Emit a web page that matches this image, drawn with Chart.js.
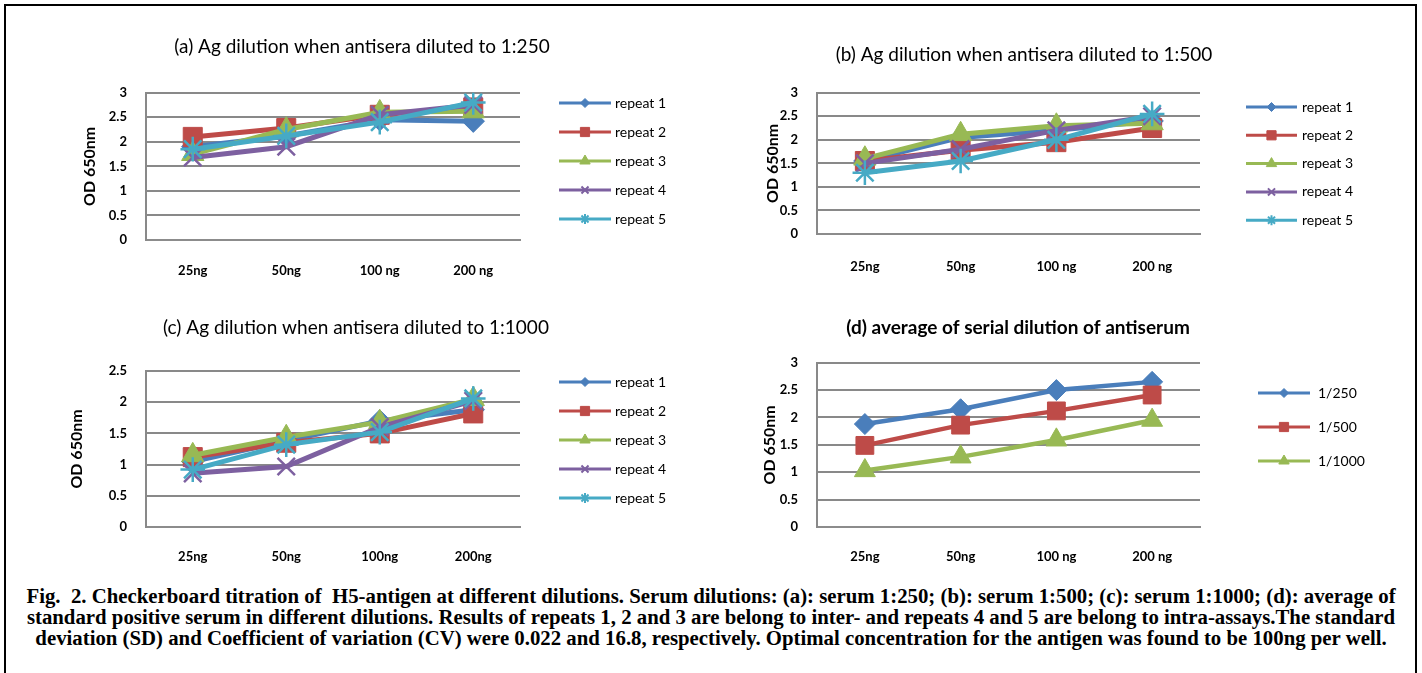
<!DOCTYPE html>
<html>
<head>
<meta charset="utf-8">
<title>Fig. 2 Checkerboard titration of H5-antigen</title>
<script src="https://cdn.jsdelivr.net/npm/chart.js@4.4.1/dist/chart.umd.min.js"></script>
<style>
  html, body { margin: 0; padding: 0; background: #fff; }
  body { width: 1422px; height: 673px; position: relative; overflow: hidden; }
  #frame { position: absolute; left: 4px; top: 4px; width: 1409px; height: 700px; border: 2px solid #000; }
  canvas { position: absolute; }
  #caption {
    position: absolute; left: 8px; width: 1406px; top: 585px;
    text-align: center; color: #000;
    font-family: "Liberation Serif", "Times New Roman", serif;
    font-weight: bold; font-size: 20.8px; line-height: 21px;
  }
</style>
</head>
<body>
<div id="frame"></div>
<canvas id="chart-a"></canvas>
<canvas id="chart-b"></canvas>
<canvas id="chart-c"></canvas>
<canvas id="chart-d"></canvas>
<div id="caption">Fig.&nbsp; 2. Checkerboard titration of&nbsp; H5-antigen at different dilutions. Serum dilutions: (a): serum 1:250; (b): serum 1:500; (c): serum 1:1000; (d): average of<br>standard positive serum in different dilutions. Results of repeats 1, 2 and 3 are belong to inter- and repeats 4 and 5 are belong to intra-assays.The standard<br>deviation (SD) and Coefficient of variation (CV) were 0.022 and 16.8, respectively. Optimal concentration for the antigen was found to be 100ng per well.</div>

<script>
// kategori dosis antigen
const doseLabels = ['25ng', '50ng', '100 ng', '200 ng'];
const doseLabelsC = ['25ng', '50ng', '100ng', '200ng'];
const repeatNames = ['repeat 1', 'repeat 2', 'repeat 3', 'repeat 4', 'repeat 5'];
const dilutionNames = ['1/250', '1/500', '1/1000'];

// (a) antisera 1:250
const a_repeat1 = [1.90, 2.12, 2.45, 2.42];
const a_repeat2 = [2.10, 2.28, 2.55, 2.70];
const a_repeat3 = [1.75, 2.25, 2.60, 2.62];
const a_repeat4 = [1.68, 1.90, 2.55, 2.75];
const a_repeat5 = [1.85, 2.12, 2.40, 2.80];

// (b) antisera 1:500
const b_repeat1 = [1.55, 2.05, 2.20, 2.40];
const b_repeat2 = [1.55, 1.78, 1.95, 2.25];
const b_repeat3 = [1.60, 2.12, 2.30, 2.35];
const b_repeat4 = [1.50, 1.80, 2.20, 2.50];
const b_repeat5 = [1.30, 1.55, 2.00, 2.55];

// (c) antisera 1:1000
const c_repeat1 = [1.05, 1.38, 1.70, 1.88];
const c_repeat2 = [1.12, 1.35, 1.50, 1.82];
const c_repeat3 = [1.15, 1.44, 1.68, 2.05];
const c_repeat4 = [0.86, 0.97, 1.60, 2.02];
const c_repeat5 = [0.92, 1.32, 1.52, 2.06];

// (d) rata-rata per pengenceran
const d_250 = [1.88, 2.15, 2.50, 2.65];
const d_500 = [1.49, 1.86, 2.12, 2.41];
const d_1000 = [1.03, 1.28, 1.59, 1.95];

const colors = ['#4A7EBB', '#BE4B48', '#98B954', '#7D60A0', '#46AAC5'];
const markers = ['rectRot', 'rect', 'triangle', 'crossRot', 'star'];
const markerRadius = { rectRot: 10, rect: 12, triangle: 11.5, crossRot: 11, star: 11 };
const legendRadius = { rectRot: 4.5, rect: 6.5, triangle: 6, crossRot: 5, star: 5 };
const FONT = 'Lato, "Open Sans", sans-serif';
const TICK_SIZE = 13;
const AXIS_TITLE_SIZE = 16;

// legenda gaya Excel: garis + penanda
const excelLegend = {
  id: 'excelLegend',
  afterDraw(chart, args, opts) {
    const ctx = chart.ctx;
    chart.data.datasets.forEach((ds, i) => {
      const y = opts.firstRow + i * opts.rowGap;
      const style = ds.pointStyle;
      ctx.save();
      ctx.strokeStyle = ds.borderColor;
      ctx.fillStyle = ds.borderColor;
      ctx.lineWidth = 3;
      ctx.beginPath();
      ctx.moveTo(opts.lineStart, y);
      ctx.lineTo(opts.lineEnd, y);
      ctx.stroke();
      ctx.lineWidth = (style === 'crossRot' || style === 'star') ? 2 : 1;
      Chart.helpers.drawPoint(ctx, {
        pointStyle: style, radius: legendRadius[style], rotation: 0, borderWidth: ctx.lineWidth
      }, (opts.lineStart + opts.lineEnd) / 2, y);
      ctx.fillStyle = '#000';
      ctx.font = '14px ' + FONT;
      ctx.textBaseline = 'middle';
      ctx.textAlign = 'left';
      ctx.fillText(ds.label, opts.textX, y);
      ctx.restore();
    });
  }
};

function makePanel(p) {
  const canvas = document.getElementById(p.id);
  canvas.width = p.width;
  canvas.height = p.height;
  canvas.style.left = p.left + 'px';
  canvas.style.top = p.top + 'px';

  const titleLH = p.titleSize * 1.2;
  const datasets = p.series.map((data, i) => {
    const style = markers[i];
    const cross = style === 'crossRot' || style === 'star';
    return {
      label: p.names[i],
      data: data,
      borderColor: colors[i],
      backgroundColor: colors[i],
      borderWidth: p.lineWidth,
      pointStyle: style,
      pointRadius: markerRadius[style] * p.markerScale,
      pointBackgroundColor: colors[i],
      pointBorderColor: colors[i],
      pointBorderWidth: cross ? 2.5 : 1,
      tension: 0,
      order: p.series.length - i
    };
  });

  new Chart(canvas.getContext('2d'), {
    type: 'line',
    data: { labels: p.labels, datasets: datasets },
    options: {
      responsive: false,
      animation: false,
      events: [],
      layout: { padding: 0 },
      plugins: {
        legend: { display: false },
        tooltip: { enabled: false },
        title: {
          display: true,
          text: p.title,
          color: '#000',
          font: { family: FONT, size: p.titleSize, weight: p.titleBold ? 'bold' : 'normal', lineHeight: 1.2 },
          padding: { top: p.titleY - p.top - titleLH / 2, bottom: p.plot.top - p.titleY - titleLH / 2 }
        },
        excelLegend: {
          lineStart: p.legend.lineStart - p.left,
          lineEnd: p.legend.lineEnd - p.left,
          textX: p.legend.textX - p.left,
          firstRow: p.legend.firstRow - p.top,
          rowGap: p.legend.rowGap
        }
      },
      scales: {
        x: {
          offset: true,
          grid: { display: false, drawTicks: false },
          border: { display: true, color: '#8C8C8C', width: 2 },
          ticks: {
            color: '#000',
            padding: p.labelY - p.plot.bottom - TICK_SIZE * 0.6,
            font: { family: FONT, size: TICK_SIZE, weight: 'bold', lineHeight: 1.2 }
          },
          afterFit: (s) => {
            s.height = p.top + p.height - p.plot.bottom;
            s.paddingRight = p.left + p.width - p.plot.right;
          }
        },
        y: {
          min: 0,
          max: p.yMax,
          grid: { color: '#898989', lineWidth: 2, drawTicks: false },
          border: { display: true, color: '#898989', width: 2 },
          ticks: {
            stepSize: 0.5,
            color: '#000',
            padding: 19,
            font: { family: FONT, size: TICK_SIZE, weight: 'bold' },
            callback: (v) => String(v)
          },
          title: {
            display: true,
            text: 'OD 650nm',
            color: '#000',
            font: { family: FONT, size: AXIS_TITLE_SIZE, weight: 'bold', lineHeight: 1.2 },
            padding: { top: p.yTitleX - p.left - AXIS_TITLE_SIZE * 0.6, bottom: 0 }
          },
          afterFit: (s) => { s.width = p.plot.left - p.left; }
        }
      }
    },
    plugins: [excelLegend]
  });
}

document.addEventListener('DOMContentLoaded', () => {
  makePanel({
    id: 'chart-a', left: 40, top: 14, width: 644, height: 286,
    plot: { left: 146, right: 520, top: 92.7, bottom: 240 },
    title: '(a) Ag dilution when antisera diluted to 1:250', titleY: 47, titleSize: 19, titleBold: false,
    yTitleX: 90, labelY: 271, yMax: 3,
    labels: doseLabels, names: repeatNames,
    series: [a_repeat1, a_repeat2, a_repeat3, a_repeat4, a_repeat5],
    lineWidth: 5, markerScale: 1.12,
    legend: { lineStart: 559, lineEnd: 611, textX: 615, firstRow: 103, rowGap: 29 }
  });
  makePanel({
    id: 'chart-b', left: 688, top: 14, width: 672, height: 286,
    plot: { left: 817, right: 1200, top: 92.7, bottom: 234 },
    title: '(b) Ag dilution when antisera diluted to 1:500', titleY: 55, titleSize: 19, titleBold: false,
    yTitleX: 773, labelY: 267, yMax: 3,
    labels: doseLabels, names: repeatNames,
    series: [b_repeat1, b_repeat2, b_repeat3, b_repeat4, b_repeat5],
    lineWidth: 5, markerScale: 1.12,
    legend: { lineStart: 1246, lineEnd: 1297, textX: 1302, firstRow: 107, rowGap: 28.3 }
  });
  makePanel({
    id: 'chart-c', left: 34, top: 300, width: 644, height: 280,
    plot: { left: 146, right: 520, top: 371, bottom: 527 },
    title: '(c) Ag dilution when antisera diluted to 1:1000', titleY: 328, titleSize: 19, titleBold: false,
    yTitleX: 77, labelY: 557, yMax: 2.5,
    labels: doseLabelsC, names: repeatNames,
    series: [c_repeat1, c_repeat2, c_repeat3, c_repeat4, c_repeat5],
    lineWidth: 5, markerScale: 1.12,
    legend: { lineStart: 559, lineEnd: 611, textX: 615, firstRow: 382, rowGap: 29 }
  });
  makePanel({
    id: 'chart-d', left: 671, top: 300, width: 694, height: 280,
    plot: { left: 817, right: 1200, top: 362.7, bottom: 527 },
    title: '(d) average of serial dilution of antiserum', titleY: 328, titleSize: 19, titleBold: true,
    yTitleX: 770, labelY: 557, yMax: 3,
    labels: doseLabels, names: dilutionNames,
    series: [d_250, d_500, d_1000],
    lineWidth: 4.5, markerScale: 1.05,
    legend: { lineStart: 1258, lineEnd: 1310, textX: 1318, firstRow: 393, rowGap: 34 }
  });
});
</script>
</body>
</html>
